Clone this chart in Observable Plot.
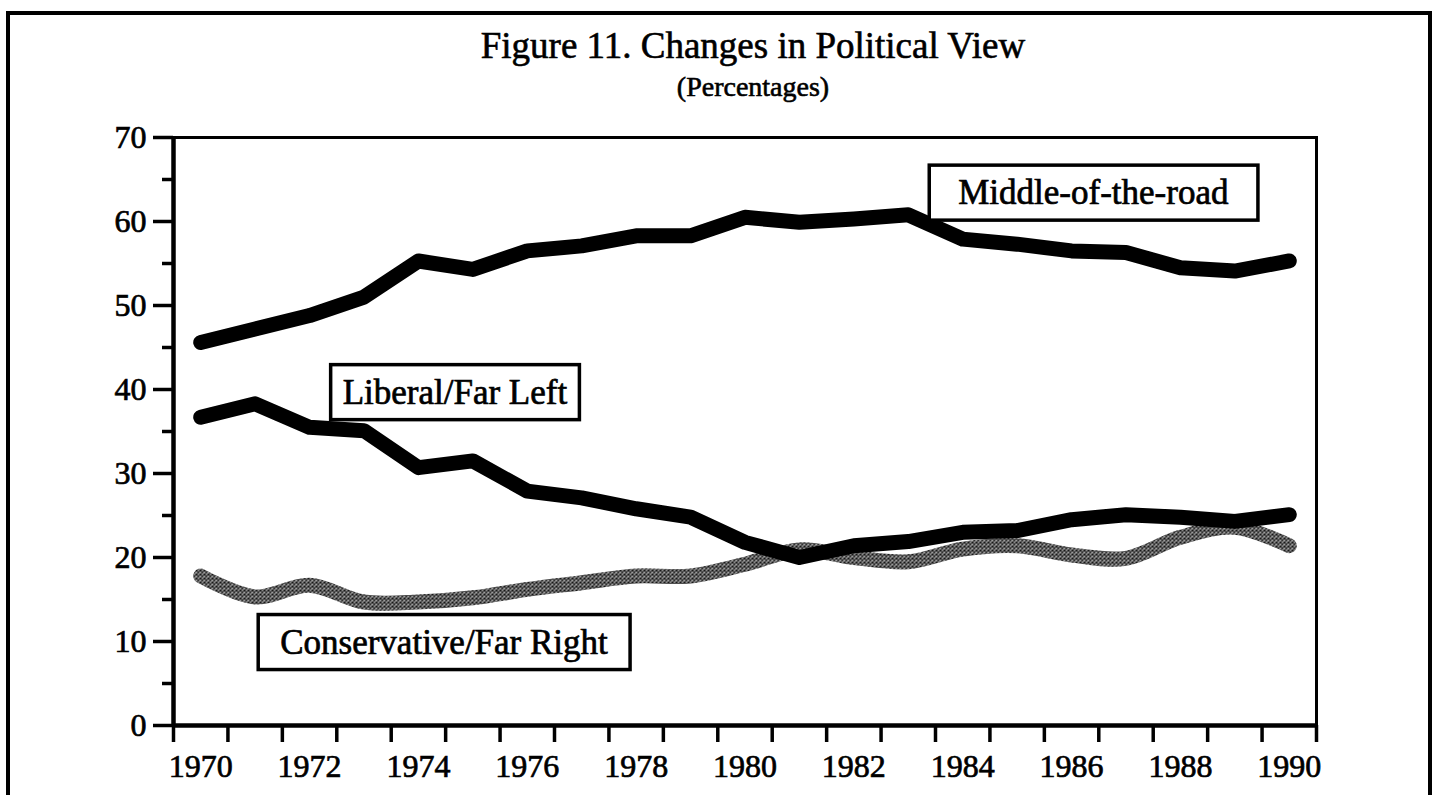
<!DOCTYPE html>
<html>
<head>
<meta charset="utf-8">
<script src="https://cdn.jsdelivr.net/npm/d3@7"></script>
<script src="https://cdn.jsdelivr.net/npm/@observablehq/plot@0.6"></script>
<style>
  html, body { margin: 0; padding: 0; background: #fff; overflow: hidden; }
  #border { position: absolute; left: 6px; top: 11px; width: 1426px; height: 900px;
            border: 4px solid #000; border-bottom: none; box-sizing: border-box; }
  #wrap { position: relative; width: 1436px; height: 795px; }
  .ttl { position: absolute; left: 0; width: 1436px; text-align: center; padding-left: 70px; box-sizing: border-box;
         font-family: "Liberation Serif", "Times New Roman", serif; color: #000;
         -webkit-text-stroke: 0.6px #000; white-space: nowrap; }
  #t1 { top: 27px; font-size: 37px; line-height: 37px; }
  #t2 { top: 73px; font-size: 28px; line-height: 28px; }
  #chart { position: absolute; left: 0; top: 110px; }
  #chart svg text { font-family: "Liberation Serif", "Times New Roman", serif !important; stroke: #000; stroke-width: 0.7px; }
</style>
</head>
<body>
<div id="border"></div>
<div id="wrap">
  <div class="ttl" id="t1">Figure 11. Changes in Political View</div>
  <div class="ttl" id="t2">(Percentages)</div>
  <div id="chart"></div>
</div>
<script>
// ---- data ----
const years = [1970, 1971, 1972, 1973, 1974, 1975, 1976, 1977, 1978, 1979, 1980,
               1981, 1982, 1983, 1984, 1985, 1986, 1987, 1988, 1989, 1990];
const middleOfTheRoad = [45.6, 47.2, 48.8, 51.0, 55.3, 54.3, 56.5, 57.1, 58.3, 58.3, 60.5,
                         59.9, 60.3, 60.8, 57.9, 57.3, 56.5, 56.3, 54.5, 54.1, 55.3];
const liberalFarLeft = [36.7, 38.3, 35.5, 35.1, 30.7, 31.5, 27.9, 27.1, 25.8, 24.8, 21.8,
                        20.0, 21.4, 21.9, 23.0, 23.2, 24.5, 25.1, 24.8, 24.3, 25.1];
const conservativeFarRight = [17.8, 15.3, 16.7, 14.7, 14.7, 15.2, 16.2, 17.0, 17.8, 17.8, 19.2,
                              20.9, 20.0, 19.5, 21.0, 21.4, 20.3, 19.9, 22.4, 23.6, 21.4];
const yTickValues = [0, 10, 20, 30, 40, 50, 60, 70];
const yMinorTicks = [5, 15, 25, 35, 45, 55, 65];
const xTickLabels = [1970, 1972, 1974, 1976, 1978, 1980, 1982, 1984, 1986, 1988, 1990];
const labelText = ["Middle-of-the-road", "Liberal/Far Left", "Conservative/Far Right"];
const labelYear = [1986.4, 1974.67, 1974.47];
const labelValue = [63.4, 39.65, 9.9];

// ---- derived tables ----
const toRows = (vals) => years.map((yr, i) => ({year: yr, value: vals[i]}));
const middleRows = toRows(middleOfTheRoad);
const liberalRows = toRows(liberalFarLeft);
const conservRows = toRows(conservativeFarRight);
const slotBounds = years.map(y => y - 0.5).concat([years[years.length - 1] + 0.5]);
const labels = labelText.map((t, i) => ({text: t, x: labelYear[i], y: labelValue[i]}));
const labelPadX = [29, 12, 22];
const serif = "'Liberation Serif', 'Times New Roman', serif";

const chart = Plot.plot({
  width: 1436,
  height: 685,
  marginTop: 27,
  marginBottom: 70,
  marginLeft: 173,
  marginRight: 120,
  style: {fontFamily: serif, fontSize: "32px", background: "transparent", color: "#000"},
  x: {domain: [slotBounds[0], slotBounds[slotBounds.length - 1]], axis: null},
  y: {domain: [0, 70], axis: null},
  marks: [
    Plot.axisY(yTickValues, {tickSize: 20, tickPadding: 7, strokeWidth: 3.5, fontSize: 32, fontFamily: serif, label: null, tickFormat: d => String(d)}),
    Plot.axisY(yMinorTicks, {tickSize: 11, strokeWidth: 3.5, label: null, tickFormat: () => ""}),
    Plot.axisX(slotBounds, {tickSize: 17, strokeWidth: 3.5, label: null, tickFormat: () => ""}),
    Plot.axisX(xTickLabels, {tickSize: 0, tickPadding: 29, fontSize: 32, fontFamily: serif, label: null, tickFormat: d => String(d)}),
    Plot.frame({stroke: "#000", strokeWidth: 3}),
    Plot.ruleX([slotBounds[0]], {stroke: "#000", strokeWidth: 4.5}),
    Plot.ruleY([0], {stroke: "#000", strokeWidth: 4.5}),
    Plot.line(conservRows, {x: "year", y: "value", stroke: "url(#hatch)", strokeWidth: 15, curve: "catmull-rom", strokeLinejoin: "round"}),
    Plot.line(liberalRows, {x: "year", y: "value", stroke: "#000", strokeWidth: 15, strokeLinejoin: "round"}),
    Plot.line(middleRows, {x: "year", y: "value", stroke: "#000", strokeWidth: 15, strokeLinejoin: "round"}),
    Plot.text(labels, {x: "x", y: "y", text: "text", fontSize: 35, fontFamily: serif, lineAnchor: "middle", fill: "#000", className: "boxlabel"})
  ]
});

document.getElementById("chart").appendChild(chart);

// pattern for the hatched (grey) series
d3.select(chart).insert("defs", ":first-child").html(
  '<pattern id="hatch" patternUnits="userSpaceOnUse" width="4" height="4">' +
  '<rect width="4" height="4" fill="#c4c4c4"/>' +
  '<path d="M0,0L4,4M4,0L0,4" stroke="#111" stroke-width="1.2"/>' +
  '</pattern>'
);

// boxes behind the series labels
d3.select(chart).selectAll("g.boxlabel text").each(function(d, i) {
  const bb = this.getBBox();
  const padX = labelPadX[i] ?? 20, padY = 8;
  const r = document.createElementNS("http://www.w3.org/2000/svg", "rect");
  r.setAttribute("x", bb.x - padX);
  r.setAttribute("y", bb.y - padY);
  r.setAttribute("width", bb.width + 2 * padX);
  r.setAttribute("height", bb.height + 2 * padY);
  r.setAttribute("fill", "#fff");
  r.setAttribute("stroke", "#000");
  r.setAttribute("stroke-width", "3.5");
  const tr = this.getAttribute("transform");
  if (tr) r.setAttribute("transform", tr);
  this.parentNode.insertBefore(r, this);
});
</script>
</body>
</html>
